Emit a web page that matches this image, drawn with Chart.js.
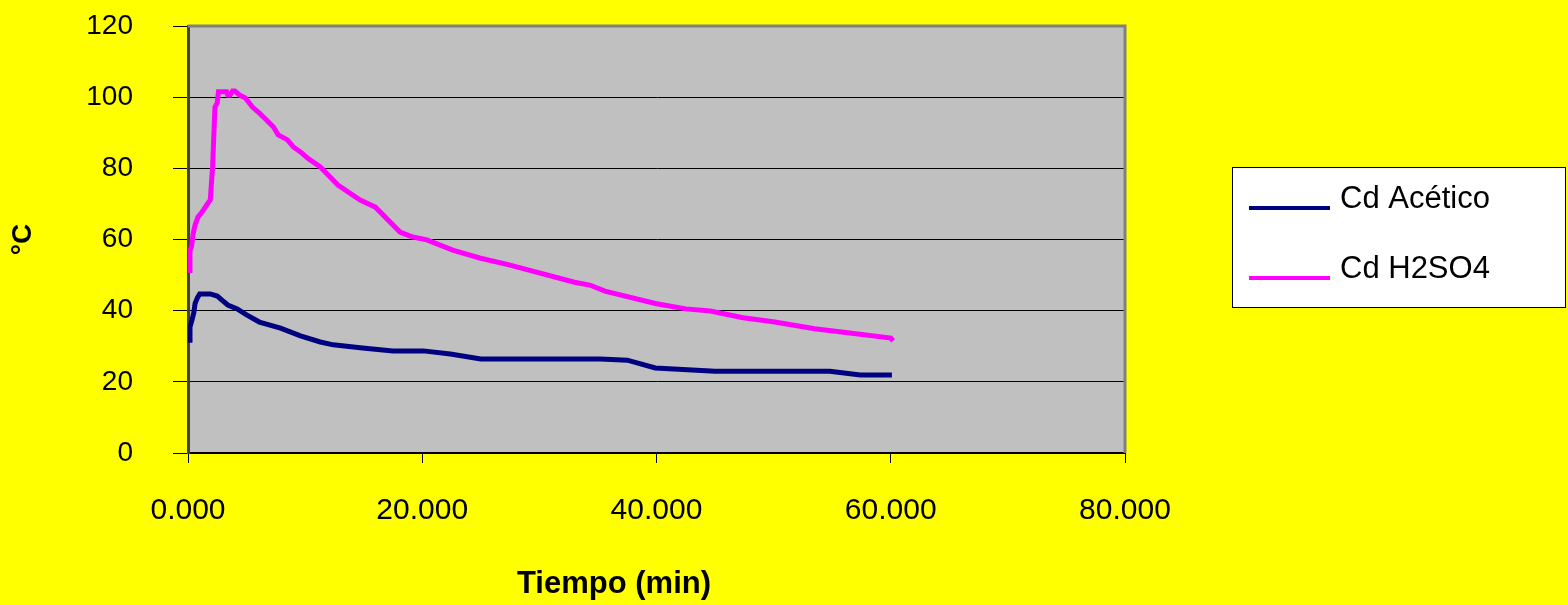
<!DOCTYPE html>
<html>
<head>
<meta charset="utf-8">
<script src="https://cdn.jsdelivr.net/npm/chart.js@4.4.1/dist/chart.umd.min.js"></script>
<style>
  html, body { margin: 0; padding: 0; background: #ffff00; }
  #wrap { width: 1568px; height: 605px; }
</style>
</head>
<body>
<div id="wrap"><canvas id="tempChart" width="1568" height="605"></canvas></div>
<script>
// values (time in min, temperature in °C)
const acetico_x = [0.17, 0.17, 0.35, 0.5, 0.6, 0.8, 1.0, 1.9, 2.5, 3.0, 3.4, 4.2, 5.0, 6.1, 7.9, 9.6, 11.3, 12.4, 14.9, 17.5, 20.1, 22.4, 25.0, 35.2, 37.5, 39.9, 45.0, 54.8, 57.4, 60.1];
const acetico_y = [31, 35.4, 37.5, 39.5, 42, 43.6, 44.7, 44.7, 44.1, 42.7, 41.6, 40.5, 38.8, 36.8, 35.1, 32.9, 31.2, 30.4, 29.5, 28.7, 28.7, 27.8, 26.4, 26.4, 26.1, 23.9, 23, 23, 21.9, 21.9];

const h2so4_x = [0.17, 0.17, 0.3, 0.45, 0.6, 0.85, 1.2, 1.6, 1.9, 2.1, 2.3, 2.5, 2.6, 3.3, 3.4, 3.6, 3.8, 4.0, 4.4, 4.9, 5.5, 6.1, 6.7, 7.3, 7.7, 8.5, 9.0, 9.6, 10.2, 11.3, 12.8, 14.7, 16.0, 18.1, 19.2, 20.4, 22.6, 24.9, 27.5, 33.0, 34.3, 35.6, 39.9, 42.5, 44.6, 47.4, 50.1, 53.5, 56.5, 60.0, 60.2];
const h2so4_y = [50.6, 57, 58, 61.8, 64, 66.3, 67.7, 69.7, 71.1, 80.4, 97.2, 98.4, 101.5, 101.5, 100.6, 100.6, 101.7, 101.7, 100.6, 99.8, 97.2, 95.5, 93.6, 91.6, 89.4, 88, 86, 84.6, 82.9, 80.4, 75.3, 71.1, 69.1, 62.1, 60.7, 59.9, 57, 54.8, 52.8, 48, 47.2, 45.5, 42, 40.5, 39.9, 38, 36.8, 34.9, 33.7, 32.3, 31.5];

const series_labels = ['Cd Acético', 'Cd H2SO4'];
const x_ticks = [0, 20, 40, 60, 80];
const y_ticks = [0, 20, 40, 60, 80, 100, 120];
const x_title = 'Tiempo (min)';

function toPoints(xs, ys) {
  return xs.map((x, i) => ({ x: x, y: ys[i] }));
}

const FONT = 'Liberation Sans, Arial, sans-serif';

// yellow page + gray plot area, like the old Excel chart
const backgroundPlugin = {
  id: 'bgPlugin',
  beforeDraw(chart) {
    const ctx = chart.ctx;
    const a = chart.chartArea;
    ctx.save();
    ctx.fillStyle = '#ffff00';
    ctx.fillRect(0, 0, chart.width, chart.height);
    ctx.fillStyle = '#c0c0c0';
    ctx.fillRect(a.left, a.top, a.right - a.left, a.bottom - a.top);
    ctx.restore();
  },
  afterDatasetsDraw(chart) {
    const ctx = chart.ctx;
    const a = chart.chartArea;
    ctx.save();
    ctx.strokeStyle = '#808080';
    ctx.lineWidth = 3;
    ctx.beginPath();
    ctx.moveTo(a.left, a.top);
    ctx.lineTo(a.right, a.top);
    ctx.lineTo(a.right, a.bottom);
    ctx.stroke();
    ctx.restore();
  }
};

// boxed legend on the right and the x title (sits left of centre in the original)
const boxLegend = {
  id: 'boxLegend',
  afterDraw(chart) {
    const ctx = chart.ctx;
    const left = 1232, top = 167, w = 334, h = 141;
    ctx.save();
    ctx.fillStyle = '#ffffff';
    ctx.fillRect(left, top, w, h);
    ctx.strokeStyle = '#000000';
    ctx.lineWidth = 1;
    ctx.strokeRect(left + 0.5, top + 0.5, w - 1, h - 1);
    ctx.font = '31px ' + FONT;
    ctx.textBaseline = 'middle';
    chart.data.datasets.forEach((ds, i) => {
      const y = 208 + i * 70;
      ctx.strokeStyle = ds.borderColor;
      ctx.lineWidth = 4;
      ctx.beginPath();
      ctx.moveTo(1249, y);
      ctx.lineTo(1330, y);
      ctx.stroke();
      ctx.fillStyle = '#000000';
      ctx.fillText(ds.label, 1340, y - 9);
    });
    ctx.font = 'bold 31px ' + FONT;
    ctx.textAlign = 'center';
    ctx.fillText(x_title, 614, 584);
    ctx.restore();
  }
};

const temp_config = {
  type: 'line',
  data: {
    datasets: [{
      label: series_labels[0],
      data: toPoints(acetico_x, acetico_y),
      borderColor: '#000080',
      borderWidth: 5,
      pointRadius: 0,
      tension: 0
    }, {
      label: series_labels[1],
      data: toPoints(h2so4_x, h2so4_y),
      borderColor: '#ff00ff',
      borderWidth: 5,
      pointRadius: 0,
      tension: 0
    }]
  },
  options: {
    responsive: false,
    animation: false,
    layout: {
      padding: { top: 26, right: 443, bottom: 0, left: 0 }
    },
    plugins: {
      legend: { display: false },
      tooltip: { enabled: false }
    },
    scales: {
      x: {
        type: 'linear',
        min: 0,
        max: 80,
        afterBuildTicks: (scale) => { scale.ticks = x_ticks.map(v => ({ value: v })); },
        afterFit: (scale) => {
          scale.height = 152;
          scale.paddingLeft = 0;
          scale.paddingRight = 0;
        },
        ticks: {
          color: '#000000',
          font: { family: FONT, size: 30 },
          padding: 30,
          maxRotation: 0,
          callback: (v) => v.toFixed(3)
        },
        grid: {
          drawOnChartArea: false,
          drawTicks: true,
          tickLength: 10,
          color: '#000000'
        },
        border: { color: '#000000', width: 2 },
        title: { display: false }
      },
      y: {
        min: 0,
        max: 120,
        afterBuildTicks: (scale) => { scale.ticks = y_ticks.map(v => ({ value: v })); },
        afterFit: (scale) => {
          scale.width = 188;
          scale.paddingTop = 0;
          scale.paddingBottom = 0;
        },
        ticks: {
          color: '#000000',
          font: { family: FONT, size: 28 },
          padding: 40
        },
        grid: {
          color: '#000000',
          lineWidth: 1,
          tickLength: 15
        },
        border: { color: '#404040', width: 3 },
        title: {
          display: true,
          text: '°C',
          color: '#000000',
          font: { family: FONT, size: 28, weight: 'bold' },
          padding: { top: 6, bottom: 0 }
        }
      }
    }
  },
  plugins: [backgroundPlugin, boxLegend]
};

const tempChart = new Chart(document.getElementById('tempChart'), temp_config);
</script>
</body>
</html>
